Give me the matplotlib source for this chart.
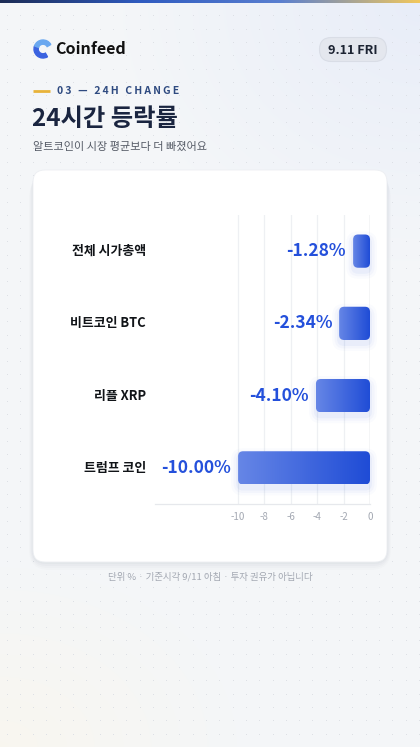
import numpy as np
import matplotlib
matplotlib.use("Agg")
import matplotlib.pyplot as plt
from matplotlib.patches import FancyBboxPatch, Wedge
from matplotlib.colors import LinearSegmentedColormap

plt.rcParams['font.family'] = ['Noto Sans CJK KR', 'DejaVu Sans']

# ---- data ----
categories = ["전체 시가총액", "비트코인 BTC", "리플 XRP", "트럼프 코인"]
changes = [-1.28, -2.34, -4.10, -10.00]
value_labels = ["-1.28%", "-2.34%", "-4.10%", "-10.00%"]
xticks = [-10, -8, -6, -4, -2, 0]
xtick_labels = ["-10", "-8", "-6", "-4", "-2", "0"]
title = "24시간 등락률"
kicker = "03 — 24H CHANGE"
subtitle = "알트코인이 시장 평균보다 더 빠졌어요"
brand = "Coinfeed"
date_label = "9.11 FRI"
footer = "단위 % · 기준시각 9/11 아침 · 투자 권유가 아닙니다"

W, H = 420, 747
fig = plt.figure(figsize=(W / 100, H / 100), dpi=100)

# ---- background in pixel coordinates ----
bg = fig.add_axes([0, 0, 1, 1])
bg.set_xlim(0, W)
bg.set_ylim(H, 0)
bg.axis('off')

yy, xx = np.mgrid[0:H:4, 0:W:4]
base = np.array([0.957, 0.965, 0.976])
img = np.ones((yy.shape[0], yy.shape[1], 3)) * base
blue_t = np.clip(1 - np.hypot((xx - W) / 300, yy / 260), 0, 1)
img += blue_t[..., None] * (np.array([0.91, 0.93, 0.975]) - base)
warm_t = np.clip(1 - np.hypot(xx / 260, (yy - H) / 200), 0, 1)
img += warm_t[..., None] * (np.array([0.975, 0.965, 0.94]) - base)
bg.imshow(img, extent=[0, W, H, 0], aspect='auto', zorder=0, interpolation='bilinear')

gx = np.arange(6.5, W, 13.3)
gy = np.arange(2, H, 13.3)
GX, GY = np.meshgrid(gx, gy)
bg.scatter(GX.ravel(), GY.ravel(), s=0.5, color='#dcdfe5', lw=0, zorder=1)

cmap_top = LinearSegmentedColormap.from_list('top', ['#1c2c55', '#2f5bc0', '#5a7fd0', '#f2c85c'])
bg.imshow(np.linspace(0, 1, 256)[None, :], cmap=cmap_top, extent=[0, W, 3, 0],
          aspect='auto', zorder=2)

# logo
bg.add_patch(Wedge((43, 49), 9, 60, 200, width=4.2, color='#3b63e0', zorder=3))
bg.add_patch(Wedge((43, 49), 9, 200, 330, width=4.2, color='#6aa8f0', zorder=3))
bg.text(55, 49.5, brand, fontsize=11.5, fontweight='bold', color='#111111',
        va='center', ha='left', zorder=3)

# date pill
bg.add_patch(FancyBboxPatch((319.5, 37.5), 67, 24, boxstyle='round,pad=0,rounding_size=12',
                            fc='#e4e7ee', ec='#d9dde6', lw=0.8, zorder=3))
bg.text(353, 50, date_label, fontsize=9.2, fontweight='bold', color='#1d2433',
        ha='center', va='center', zorder=4)

# kicker with letter spacing
bg.plot([33, 50], [91, 91], color='#e8b33a', lw=2, solid_capstyle='butt', zorder=3)
spaced = "\u2009".join(list(kicker))
bg.text(57, 91.5, spaced, fontsize=7.5, fontweight='bold', color='#2e4a80',
        ha='left', va='center', zorder=3)

bg.text(32, 119, title, fontsize=17.5, fontweight='bold', color='#1a2540',
        ha='left', va='center', zorder=3)
bg.text(33, 146.5, subtitle, fontsize=8, color='#555b66', ha='left', va='center', zorder=3)

# card with shadow
for i, a in enumerate([0.025, 0.02, 0.015, 0.01]):
    off = 2 + i * 2
    bg.add_patch(FancyBboxPatch((33 - off / 2, 170 + off), 354 + off, 392,
                                boxstyle=f'round,pad=0,rounding_size={12 + off}',
                                fc='#1a2540', ec='none', alpha=a, zorder=3))
bg.add_patch(FancyBboxPatch((33, 170), 354, 392, boxstyle='round,pad=0,rounding_size=12',
                            fc='white', ec='#eceef2', lw=0.6, zorder=4))

bg.text(210, 577, footer, fontsize=6.8, color='#a3a8b2', ha='center', va='center', zorder=3)

# ---- chart axes ----
ax_l, ax_r, ax_t, ax_b = 155, 370, 215, 504
XMIN = -16.3
ax = fig.add_axes([ax_l / W, 1 - ax_b / H, (ax_r - ax_l) / W, (ax_b - ax_t) / H])
ax.set_facecolor('none')
for s in ['top', 'right', 'left']:
    ax.spines[s].set_visible(False)
ax.spines['bottom'].set_color('#e6e8ec')
ax.spines['bottom'].set_linewidth(0.9)
ax.set_xticks(xticks)
ax.set_xticklabels(xtick_labels)
ax.tick_params(axis='x', length=0, pad=6, labelsize=7, labelcolor='#a3a8b2')
ax.set_yticks([])
for t in xticks:
    ax.axvline(t, color='#c9cdd4' if t == 0 else '#eef0f3', lw=1.0 if t == 0 else 0.9, zorder=0)

ypos = np.arange(len(categories))
bars = ax.barh(ypos, changes, height=0.46, color='none', edgecolor='none')

px_x = (ax_r - ax_l) / -XMIN
px_y = (ax_b - ax_t) / len(categories)
r_px = 5
cmap_bar = LinearSegmentedColormap.from_list('bar', ['#6686e6', '#1f4cd6'])
for b, lab, cat in zip(bars, value_labels, categories):
    x0, y0, w, h = b.get_x(), b.get_y(), b.get_width(), b.get_height()
    xl, xr = min(x0, x0 + w), max(x0, x0 + w)
    for k, a in enumerate([0.05, 0.035, 0.02]):
        gpx = 2 + 2.5 * k
        ax.add_patch(FancyBboxPatch((xl - gpx / px_x, y0 - gpx / px_y + 4 / px_y),
                                    (xr - xl) + 2 * gpx / px_x, h + 2 * gpx / px_y,
                                    boxstyle=f'round,pad=0,rounding_size={(r_px + gpx) / px_x}',
                                    mutation_aspect=px_x / px_y, fc='#2f5be0', ec='none',
                                    alpha=a, zorder=1, clip_on=False))
    patch = FancyBboxPatch((xl, y0), xr - xl, h,
                           boxstyle=f'round,pad=0,rounding_size={r_px / px_x}',
                           mutation_aspect=px_x / px_y, fc='none', ec='none', zorder=2)
    ax.add_patch(patch)
    im = ax.imshow(np.linspace(0, 1, 128)[None, :], cmap=cmap_bar,
                   extent=[xl, xr, y0 + h, y0], aspect='auto', zorder=2)
    im.set_clip_path(patch)
    ax.text(xl - 7 / px_x, y0 + h / 2, lab, fontsize=12.5, fontweight='bold',
            color='#2450db', ha='right', va='center', zorder=3)
    ax.text(XMIN - 9 / px_x, y0 + h / 2, cat, fontsize=9.3, fontweight='bold',
            color='#111418', ha='right', va='center', zorder=3, clip_on=False)

ax.set_xlim(XMIN, 0)
ax.set_ylim(len(categories) - 0.5, -0.5)

fig.savefig('out.png', dpi=100)
